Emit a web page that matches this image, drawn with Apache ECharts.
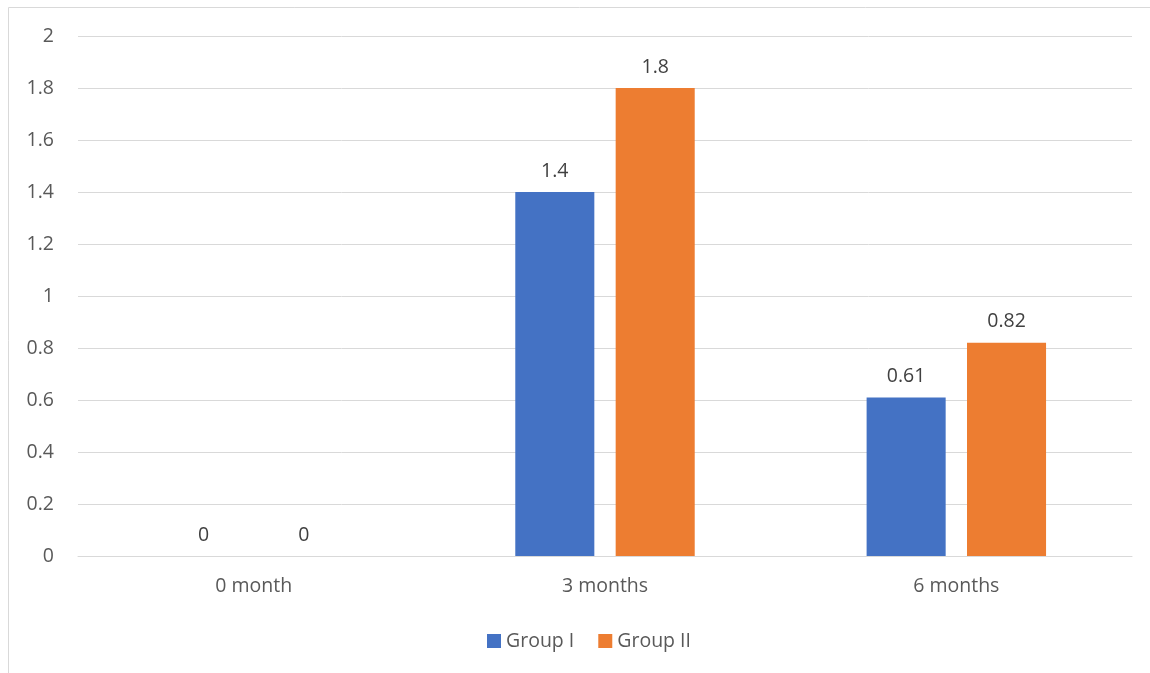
<!DOCTYPE html>
<html><head><meta charset="utf-8">
<script src="https://cdn.jsdelivr.net/npm/echarts@6/dist/echarts.min.js"></script>
<style>html,body{margin:0;padding:0;background:#fff}#c{width:1150px;height:673px}</style>
</head><body><div id="c"></div>
<script>
const categories = ['0 month', '3 months', '6 months'];
const groupI = [0, 1.4, 0.61];
const groupII = [0, 1.8, 0.82];
const yTicks = [0, 0.2, 0.4, 0.6, 0.8, 1, 1.2, 1.4, 1.6, 1.8, 2];

const font = 'Open Sans';
const txt = '#595959';
const fs = 19.5;
const chart = echarts.init(document.getElementById('c'));
chart.setOption({
  animation: false,
  textStyle: { fontFamily: font },
  graphic: [{ type: 'rect', shape: { x: 8.5, y: 7.5, width: 1200, height: 700 }, style: { fill: 'none', stroke: '#d9d9d9', lineWidth: 1 } }],
  grid: { left: 78, right: 18, top: 36, bottom: 117 },
  legend: {
    bottom: 17, left: 482, itemWidth: 14, itemHeight: 14, itemGap: 24,
    icon: 'rect',
    textStyle: { color: txt, fontSize: fs, fontFamily: font },
    data: ['Group I', 'Group II']
  },
  xAxis: {
    type: 'category', data: categories,
    axisLine: { lineStyle: { color: '#d9d9d9', width: 1 } },
    axisTick: { show: false },
    axisLabel: { color: txt, fontSize: fs, margin: 20, fontFamily: font }
  },
  yAxis: {
    type: 'value', min: yTicks[0], max: yTicks[yTicks.length - 1], interval: 0.2,
    axisLine: { show: false }, axisTick: { show: false },
    splitLine: { lineStyle: { color: '#d9d9d9', width: 1 } },
    axisLabel: { color: txt, fontSize: fs, margin: 24, fontFamily: font,
      formatter: v => String(Math.round(v * 10) / 10) }
  },
  series: [
    { name: 'Group I', type: 'bar', data: groupI, itemStyle: { color: '#4472c4' },
      barWidth: '22.5%', barGap: '27%',
      label: { show: true, position: 'top', distance: 11, color: '#404040', fontSize: fs, fontFamily: font } },
    { name: 'Group II', type: 'bar', data: groupII, itemStyle: { color: '#ed7d31' },
      barWidth: '22.5%', barGap: '27%',
      label: { show: true, position: 'top', distance: 11, color: '#404040', fontSize: fs, fontFamily: font } }
  ]
});
</script></body></html>
